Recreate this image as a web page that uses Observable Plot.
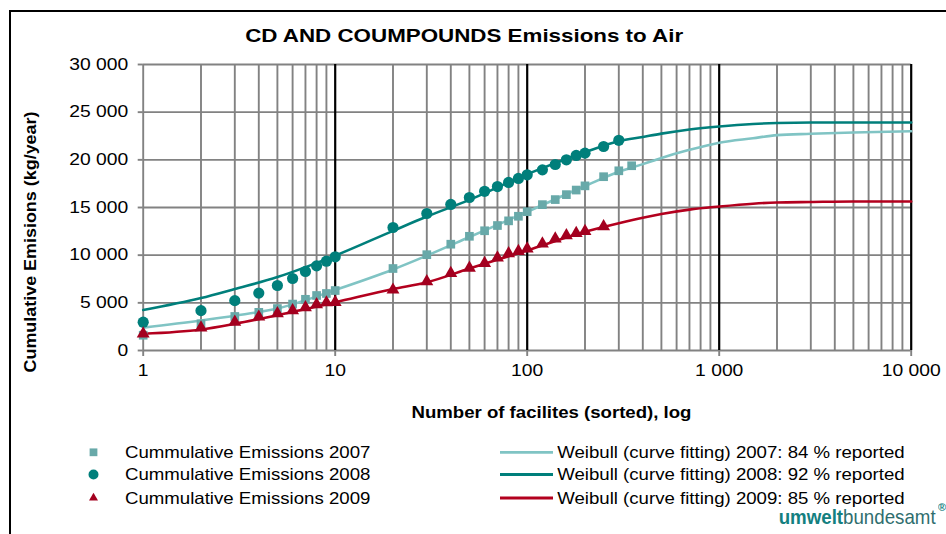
<!DOCTYPE html>
<html>
<head>
<meta charset="utf-8">
<script src="https://cdn.jsdelivr.net/npm/d3@7"></script>
<script src="https://cdn.jsdelivr.net/npm/@observablehq/plot@0.6"></script>
<style>
  html, body { margin: 0; padding: 0; background: #fff; }
  body { width: 946px; height: 534px; position: relative; overflow: hidden;
         font-family: "Liberation Sans", Arial, sans-serif; color: #000; }
  #frame { position: absolute; left: 9px; top: 10px; width: 980px; height: 580px;
           border-left: 2px solid #000; border-top: 2px solid #000; box-sizing: border-box; }
  #chart { position: absolute; left: 0; top: 0; }
  .lbl { position: absolute; white-space: nowrap; line-height: 1; }
  #swatches { position: absolute; left: 0; top: 0; pointer-events: none; }
</style>
</head>
<body>
<div id="frame"></div>
<div id="chart"></div>
<script>
// Cumulative emissions of the sorted facilities, per reporting year (kg/year)
const facilities2007 = [1, 2, 3, 4, 5, 6, 7, 8, 9, 10, 20, 30, 40, 50, 60, 70, 80, 90, 100, 120, 140, 160, 180, 200, 250, 300, 350];
const emissions2007 = [1600, 2800, 3570, 4000, 4400, 4870, 5370, 5770, 5980, 6290, 8600, 10050, 11150, 11980, 12560, 13110, 13600, 14080, 14560, 15300, 15830, 16350, 16830, 17270, 18230, 18850, 19380];

const facilities2008 = [1, 2, 3, 4, 5, 6, 7, 8, 9, 10, 20, 30, 40, 50, 60, 70, 80, 90, 100, 120, 140, 160, 180, 200, 250, 300];
const emissions2008 = [2970, 4180, 5230, 6020, 6820, 7550, 8290, 8880, 9370, 9830, 12900, 14370, 15320, 16050, 16700, 17200, 17630, 18050, 18430, 18950, 19510, 20000, 20460, 20700, 21400, 22050];

const facilities2009 = [1, 2, 3, 4, 5, 6, 7, 8, 9, 10, 20, 30, 40, 50, 60, 70, 80, 90, 100, 120, 140, 160, 180, 200, 250];
const emissions2009 = [1750, 2380, 3000, 3530, 3880, 4200, 4510, 4830, 5020, 5070, 6360, 7240, 8110, 8650, 9160, 9720, 10170, 10420, 10670, 11190, 11720, 12060, 12300, 12510, 13010];

// Weibull curve fits, sampled along the facility axis
const fitFacilities = [1, 2, 3, 5, 10, 20, 30, 50, 100, 200, 300, 400, 500, 700, 1000, 1500, 2000, 3000, 5000, 10000];
const fit2007 = [2400, 3150, 3650, 4400, 6350, 8500, 9950, 11900, 14550, 17250, 18750, 19550, 20200, 21050, 21800, 22270, 22590, 22730, 22870, 23000];
const fit2008 = [4250, 5500, 6450, 7700, 9950, 12550, 14050, 15800, 18500, 20800, 21950, 22400, 22750, 23180, 23500, 23760, 23860, 23920, 23920, 23920];
const fit2009 = [1750, 2200, 2800, 3700, 5050, 6450, 7150, 8600, 10500, 12450, 13350, 13930, 14320, 14780, 15100, 15400, 15530, 15580, 15630, 15630];

// Legend content
const years = ["2007", "2008", "2009"];
const reportedShare = [84, 92, 85];

// Axis ticks
const xTicks = [1, 10, 100, 1000, 10000];
const yTicks = [0, 5000, 10000, 15000, 20000, 25000, 30000];

// Styling
const gridGray = "#828282";
const pointColors = ["#68A9A9", "#007F7B", "#A3001F"];
const lineColors = ["#80C4C4", "#007F7B", "#B3001E"];
const symbols = ["square", "circle", "triangle"];
const radii = [4.9, 5.6, 4.8];
const fontStack = '"Liberation Sans", Arial, sans-serif';

const rows = (xs, ys) => xs.map((x, i) => ({x, y: ys[i]}));
const pointSeries = [rows(facilities2007, emissions2007), rows(facilities2008, emissions2008), rows(facilities2009, emissions2009)];
const fitSeries = [rows(fitFacilities, fit2007), rows(fitFacilities, fit2008), rows(fitFacilities, fit2009)];

// Minor log grid: 2..9 within every decade
const minorX = d3.range(0, 4).flatMap(k => d3.range(2, 10).map(m => m * 10 ** k));
const spaced = d3.format(",");
const fmt = v => spaced(v).replace(/,/g, " ");

const chart = Plot.plot({
  width: 946,
  height: 420,
  marginTop: 64,
  marginBottom: 70,
  marginLeft: 142.7,
  marginRight: 35.3,
  style: {fontFamily: fontStack, fontSize: "16.5px", color: "#000", background: "transparent", overflow: "visible"},
  x: {type: "log", domain: [1, 10000]},
  y: {domain: [0, 30000]},
  marks: [
    Plot.ruleY(yTicks, {stroke: gridGray, strokeWidth: 1.9}),
    Plot.ruleX([1, ...minorX], {stroke: gridGray, strokeWidth: 1.9}),
    Plot.ruleX(xTicks.slice(1), {stroke: "#000", strokeWidth: 2.2}),
    Plot.axisY(yTicks, {tickSize: 5, tickPadding: 10, stroke: gridGray, strokeWidth: 1.9, tickFormat: fmt, label: null, fontSize: 16.5}),
    Plot.axisX(xTicks, {tickSize: 6, tickPadding: 8, stroke: gridGray, strokeWidth: 1.9, tickFormat: fmt, label: null, fontSize: 16.5}),
    ...fitSeries.map((s, i) => Plot.line(s, {x: "x", y: "y", stroke: lineColors[i], strokeWidth: 2.6, curve: "monotone-x"})),
    ...pointSeries.map((s, i) => Plot.dot(s, {x: "x", y: "y", symbol: () => symbols[i], r: radii[i], fill: pointColors[i], stroke: "none"}))
  ]
});
document.getElementById("chart").append(chart);

// Widen the tick labels to the wide lettering of the chart
chart.querySelectorAll("text").forEach(t => {
  const len = t.getComputedTextLength();
  t.setAttribute("textLength", (len * 1.17).toFixed(1));
  t.setAttribute("lengthAdjust", "spacingAndGlyphs");
});

// Text label helper: centred at (cx, cy), stretched to a given width
function label(html, {cx, cy, left, width, size, weight = "normal", color = "#000", rotate = 0}) {
  const el = document.createElement("div");
  el.className = "lbl";
  el.innerHTML = html;
  el.style.fontSize = size + "px";
  el.style.fontWeight = weight;
  el.style.color = color;
  document.body.append(el);
  const r = el.getBoundingClientRect();
  const w = r.width, h = r.height;
  const s = width / w;
  const x = cx ?? (left + width / 2);
  el.style.left = (x - w / 2) + "px";
  el.style.top = (cy - h / 2) + "px";
  el.style.transformOrigin = "50% 50%";
  el.style.transform = (rotate ? `rotate(${rotate}deg) ` : "") + `scaleX(${s})`;
  return el;
}

label("CD AND COUMPOUNDS Emissions to Air", {left: 245, width: 438, cy: 35, size: 19, weight: "bold"});
label("Cumulative Emisions (kg/year)", {cx: 31, cy: 241.5, width: 261, size: 16, weight: "bold", rotate: -90});
label("Number of facilites (sorted), log", {left: 411, width: 280, cy: 413, size: 16, weight: "bold"});

// Legend
const rowY = [452.3, 474.5, 498];
years.forEach((yr, i) => {
  label(`Cummulative Emissions ${yr}`, {left: 125.3, width: 245.5, cy: rowY[i], size: 16.5});
  label(`Weibull (curve fitting) ${yr}: ${reportedShare[i]} % reported`, {left: 557.5, width: 347.5, cy: rowY[i], size: 16.5});
});

const sw = d3.create("svg").attr("id", "swatches").attr("width", 946).attr("height", 534);
const symbolTypes = [d3.symbolSquare, d3.symbolCircle, d3.symbolTriangle2];
years.forEach((yr, i) => {
  sw.append("path")
    .attr("transform", `translate(93.5,${rowY[i]})`)
    .attr("d", d3.symbol(symbolTypes[i], Math.PI * radii[i] * radii[i] * 0.8)())
    .attr("fill", pointColors[i]);
  sw.append("line")
    .attr("x1", 500).attr("x2", 553).attr("y1", rowY[i]).attr("y2", rowY[i])
    .attr("stroke", lineColors[i]).attr("stroke-width", 2.8);
});
document.body.append(sw.node());

// Agency logo
label('<span style="font-weight:bold;color:#138080">umwelt</span><span style="color:#2F6E6E">bundesamt</span>', {left: 779, width: 157, cy: 516.5, size: 21});
label('<span style="color:#138080;font-weight:bold">&#174;</span>', {cx: 942.5, cy: 507, width: 8, size: 11});
</script>
</body>
</html>
